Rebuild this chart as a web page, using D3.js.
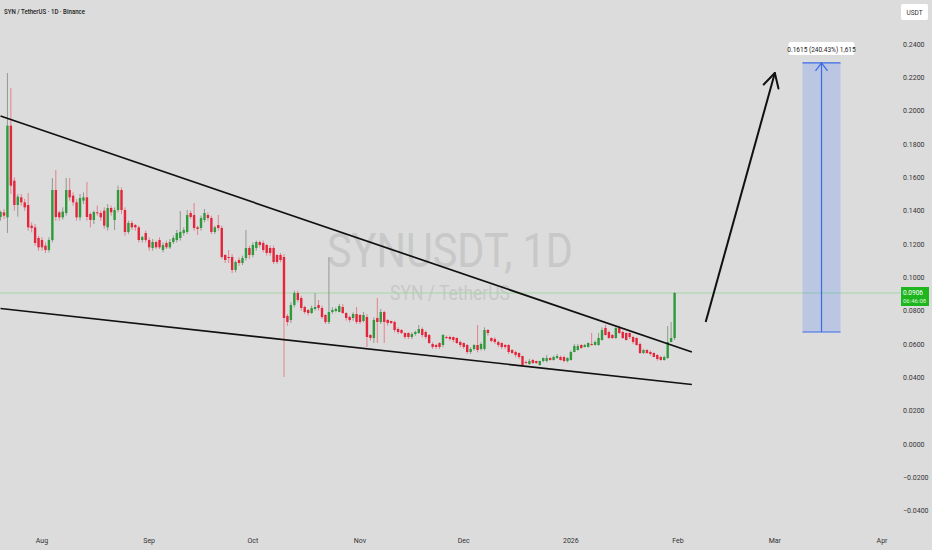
<!DOCTYPE html>
<html>
<head>
<meta charset="utf-8">
<script src="https://cdn.jsdelivr.net/npm/d3@7"></script>
<style>
  body { margin: 0; background: #dcdcdc; }
  svg { display: block; font-family: Roboto, "Noto Sans", sans-serif; }
</style>
</head>
<body>
<div id="chart"></div>
<script>
// daily candles starting 2025-07-20, [open, high, low, close]
var candleStart = "2025-07-20";
var candles = [
  [.1362,.140,.134,.1392],[.139,.141,.135,.137],[.136,.2226,.1266,.191],[.191,.2136,.150,.155],
  [.158,.160,.140,.1434],[.1434,.150,.1364,.1484],[.148,.150,.143,.145],[.145,.147,.140,.142],
  [.1434,.1506,.128,.130],[.131,.133,.127,.1296],[.130,.132,.119,.1206],[.1236,.125,.116,.118],
  [.1224,.124,.116,.118],[.119,.121,.1146,.1164],[.1164,.124,.115,.1224],[.1224,.1596,.121,.1524],
  [.1524,.1644,.134,.1362],[.139,.140,.134,.136],[.136,.142,.1346,.1394],[.1386,.1596,.137,.1524],
  [.1524,.1596,.146,.148],[.149,.151,.143,.145],[.145,.147,.134,.136],[.136,.150,.134,.1476],
  [.146,.151,.144,.148],[.148,.1572,.134,.1362],[.138,.139,.130,.1344],[.1344,.140,.132,.1392],
  [.139,.143,.137,.1386],[.1386,.140,.134,.136],[.140,.142,.129,.131],[.130,.144,.128,.1416],
  [.1416,.143,.137,.139],[.1344,.142,.1284,.1404],[.1404,.155,.139,.1524],[.1524,.154,.138,.1404],
  [.1404,.142,.125,.1272],[.1272,.134,.126,.1326],[.1326,.134,.1284,.130],[.1314,.132,.128,.130],
  [.130,.131,.121,.1224],[.1224,.125,.121,.1242],[.1266,.128,.121,.1224],[.1224,.124,.116,.118],
  [.1176,.123,.116,.1212],[.1212,.122,.117,.118],[.1224,.124,.117,.118],[.1164,.121,.115,.1194],
  [.1206,.122,.117,.118],[.118,.123,.117,.1212],[.1212,.125,.120,.1236],[.1224,.1284,.121,.1266],
  [.1236,.1398,.122,.1272],[.1266,.130,.125,.1284],[.1272,.1404,.126,.1374],[.1386,.140,.135,.1362],
  [.1374,.1446,.128,.1296],[.130,.131,.1254,.129],[.1296,.137,.128,.1356],[.1344,.141,.133,.1386],
  [.1374,.139,.134,.1356],[.1356,.137,.126,.1272],[.1272,.131,.126,.130],[.1314,.1374,.128,.1296],
  [.1296,.131,.111,.1122],[.1134,.114,.1086,.1104],[.1122,.1164,.1086,.1116],[.1122,.114,.1026,.1044],
  [.1044,.110,.103,.1092],[.1104,.112,.107,.1086],[.1086,.113,.1074,.1116],[.1116,.1284,.110,.1176],
  [.1176,.119,.111,.1134],[.1134,.121,.112,.1194],[.1176,.122,.116,.1212],[.1212,.122,.118,.1194],
  [.1206,.122,.115,.1164],[.1194,.120,.113,.1146],[.1176,.119,.113,.1146],[.1176,.119,.108,.1092],
  [.1134,.114,.108,.1092],[.1134,.1146,.109,.1104],[.1122,.114,.0402,.0756],[.0768,.078,.071,.0732],
  [.0744,.085,.0726,.0834],[.0834,.092,.082,.0906],[.0906,.092,.085,.0864],[.0876,.089,.080,.0816],
  [.0822,.083,.078,.0792],[.0804,.081,.077,.0786],[.0786,.083,.078,.0816],[.081,.0906,.080,.0822],
  [.0834,.0864,.080,.0816],[.0816,.083,.075,.0762],[.0774,.078,.072,.0732],[.0732,.112,.072,.0792],
  [.0792,.082,.078,.0804],[.0798,.082,.079,.081],[.0792,.084,.079,.0828],[.0822,.084,.078,.0786],
  [.0786,.079,.074,.0756],[.0762,.077,.073,.0744],[.0756,.079,.074,.078],[.078,.0822,.072,.0732],
  [.0774,.078,.072,.0732],[.0738,.0792,.073,.0774],[.0762,.078,.0582,.0642],[.0654,.066,.062,.0636],
  [.0636,.076,.0606,.0744],[.0756,.0876,.0606,.0732],[.0732,.081,.072,.0792],[.0792,.080,.0606,.0732],
  [.0744,.075,.071,.0726],[.0738,.074,.072,.0726],[.0732,.074,.067,.0684],[.069,.070,.066,.0672],
  [.0684,.069,.066,.0666],[.0666,.067,.063,.0642],[.0666,.067,.063,.0642],[.0642,.067,.063,.066],
  [.066,.068,.065,.0672],[.0666,.0714,.066,.069],[.069,.070,.064,.0654],[.0672,.068,.063,.0642],
  [.0654,.066,.060,.0606],[.060,.061,.057,.0582],[.0594,.060,.057,.0582],[.0606,.061,.057,.0582],
  [.0594,.066,.058,.0654],[.0642,.065,.063,.0636],[.0642,.065,.062,.063],[.0642,.0645,.061,.0624],
  [.0636,.064,.060,.0606],[.0612,.062,.058,.0594],[.0606,.061,.057,.0582],[.0594,.060,.054,.0552],
  [.0552,.058,.054,.057],[.057,.060,.056,.0594],[.0594,.0714,.055,.0564],[.057,.061,.056,.060],
  [.057,.070,.056,.0684],[.0684,.069,.065,.0666],[.0636,.064,.061,.0618],[.063,.064,.060,.0612],
  [.0612,.062,.058,.0594],[.0606,.061,.057,.0582],[.0594,.060,.057,.0582],[.0594,.060,.054,.0552],
  [.0564,.057,.054,.0546],[.0552,.056,.052,.0534],[.0546,.055,.051,.0522],[.0528,.053,.0468,.0474],
  [.0492,.050,.048,.0486],[.048,.051,.0475,.0498],[.0504,.051,.048,.0486],[.0498,.050,.048,.0486],
  [.0474,.050,.047,.0498],[.0498,.052,.049,.0516],[.0498,.0534,.049,.0516],[.0516,.052,.050,.0504],
  [.0504,.053,.050,.0522],[.0516,.054,.051,.0528],[.0522,.053,.050,.0504],[.0522,.053,.049,.0498],
  [.0498,.052,.049,.0516],[.0504,.056,.050,.0552],[.0552,.060,.055,.0588],[.0564,.060,.056,.0588],
  [.0594,.060,.057,.0576],[.0582,.060,.058,.0594],[.0582,.061,.058,.0606],[.060,.0666,.059,.0594],
  [.0594,.062,.059,.0612],[.0594,.0666,.059,.0636],[.0624,.070,.062,.0684],[.0696,.0714,.065,.0654],
  [.0672,.068,.063,.0636],[.0654,.066,.063,.0636],[.0636,.071,.063,.0696],[.0696,.071,.066,.0666],
  [.0672,.068,.063,.0636],[.0666,.067,.062,.0624],[.0666,.067,.063,.0642],[.0642,.065,.060,.0612],
  [.0636,.064,.059,.0594],[.060,.061,.054,.0546],[.0546,.057,.054,.0564],[.0564,.057,.054,.0546],
  [.0552,.056,.053,.054],[.0546,.055,.052,.0522],[.0534,.054,.050,.051],[.0522,.053,.050,.0504],
  [.0504,.053,.050,.0522],[.0516,.0708,.051,.0612],[.0612,.0732,.061,.0636],[.0636,.0912,.0624,.0906]
];

var yTicks = [0.24,0.22,0.20,0.18,0.16,0.14,0.12,0.10,0.08,0.06,0.04,0.02,0,-0.02,-0.04];
var monthTicks = [["2025-08-01","Aug"],["2025-09-01","Sep"],["2025-10-01","Oct"],["2025-11-01","Nov"],
  ["2025-12-01","Dec"],["2026-01-01","2026"],["2026-02-01","Feb"],["2026-03-01","Mar"],["2026-04-01","Apr"]];

// drawings: [date, price]
var upperTrend = [["2025-07-20",0.1968],["2026-02-05",0.0552]];
var lowerTrend = [["2025-07-20",0.0813],["2026-02-05",0.0357]];
var arrowPath = [["2026-02-09",0.0732],["2026-03-01",0.2226]];
var measureBox = {from:"2026-03-09", to:"2026-03-20", low:0.0672, high:0.2287};
var measureLabel = "0.1615 (240.43%) 1,615";
var lastPrice = 0.0906, countdown = "06:46:08";

var W = 932, H = 550;
var parse = d3.utcParse("%Y-%m-%d");

var x = d3.scaleUtc()
    .domain([parse("2025-08-01"), parse("2026-04-01")])
    .range([42, 882]);
var y = d3.scaleLinear()
    .domain([0, 0.24])
    .range([444, 44]);

var svg = d3.select("#chart").append("svg")
    .attr("width", W)
    .attr("height", H);

svg.append("rect").attr("width", W).attr("height", H).attr("fill", "#dcdcdc");

// watermark
svg.append("text")
    .attr("x", 327).attr("y", 267)
    .attr("textLength", 246).attr("lengthAdjust", "spacingAndGlyphs")
    .style("font-size", "48px")
    .attr("fill", "#c8c8c8")
    .text("SYNUSDT, 1D");
svg.append("text")
    .attr("x", 390).attr("y", 300)
    .attr("textLength", 120).attr("lengthAdjust", "spacingAndGlyphs")
    .style("font-size", "21px")
    .attr("fill", "#c8c8c8")
    .text("SYN / TetherUS");

// last price line
svg.append("line")
    .attr("x1", 0).attr("x2", 900)
    .attr("y1", y(lastPrice)).attr("y2", y(lastPrice))
    .attr("stroke", "#a3d6a3").attr("stroke-width", 1);

var start = parse(candleStart);
var day = 86400000;
var bw = 2.4;

var c = svg.append("g").attr("class", "candles")
  .selectAll("g")
  .data(candles)
  .enter().append("g");

c.append("line")
    .attr("x1", function(d, i) { return x(new Date(+start + i * day)); })
    .attr("x2", function(d, i) { return x(new Date(+start + i * day)); })
    .attr("y1", function(d) { return y(d[1]); })
    .attr("y2", function(d) { return y(d[2]); })
    .attr("stroke", function(d) { return d[3] >= d[0] ? "#7b8a7b" : "#e66a78"; })
    .attr("stroke-width", 0.8);

c.append("rect")
    .attr("x", function(d, i) { return x(new Date(+start + i * day)) - bw / 2; })
    .attr("width", bw)
    .attr("y", function(d) { return y(Math.max(d[0], d[3])); })
    .attr("height", function(d) { return Math.max(1, Math.abs(y(d[0]) - y(d[3]))); })
    .attr("fill", function(d) { return d[3] >= d[0] ? "#2e9a3c" : "#e3263c"; });

// trend lines
function drawLine(pts, w) {
  svg.append("line")
      .attr("x1", x(parse(pts[0][0]))).attr("y1", y(pts[0][1]))
      .attr("x2", x(parse(pts[1][0]))).attr("y2", y(pts[1][1]))
      .attr("stroke", "#111").attr("stroke-width", w);
}
drawLine(upperTrend, 1.7);
drawLine(lowerTrend, 1.7);

// big arrow
var ax1 = x(parse(arrowPath[0][0])), ay1 = y(arrowPath[0][1]),
    ax2 = x(parse(arrowPath[1][0])), ay2 = y(arrowPath[1][1]);
drawLine(arrowPath, 2);
var ang = Math.atan2(ay1 - ay2, ax1 - ax2);
[-0.5, 0.5].forEach(function(a) {
  svg.append("line")
      .attr("x1", ax2).attr("y1", ay2)
      .attr("x2", ax2 + 16 * Math.cos(ang + a)).attr("y2", ay2 + 16 * Math.sin(ang + a))
      .attr("stroke", "#111").attr("stroke-width", 2).attr("stroke-linecap", "round");
});

// measure box
var mx1 = x(parse(measureBox.from)), mx2 = x(parse(measureBox.to)),
    my1 = y(measureBox.high), my2 = y(measureBox.low), mxc = (mx1 + mx2) / 2;
svg.append("rect")
    .attr("x", mx1).attr("y", my1)
    .attr("width", mx2 - mx1).attr("height", my2 - my1)
    .attr("fill", "#2962ff").attr("fill-opacity", 0.18);
[my1, my2].forEach(function(yy) {
  svg.append("line")
      .attr("x1", mx1).attr("x2", mx2).attr("y1", yy).attr("y2", yy)
      .attr("stroke", "#3d6be8").attr("stroke-width", 1.2);
});
svg.append("line")
    .attr("x1", mxc).attr("x2", mxc).attr("y1", my1).attr("y2", my2)
    .attr("stroke", "#3d6be8").attr("stroke-width", 1.2);
[-1, 1].forEach(function(s) {
  svg.append("line")
      .attr("x1", mxc).attr("y1", my1)
      .attr("x2", mxc + s * 6).attr("y2", my1 + 8)
      .attr("stroke", "#3d6be8").attr("stroke-width", 1.2);
});
svg.append("rect")
    .attr("x", mxc - 33).attr("y", 42)
    .attr("width", 66).attr("height", 13).attr("rx", 2)
    .attr("fill", "#fff");
svg.append("text")
    .attr("x", mxc).attr("y", 51.5)
    .attr("text-anchor", "middle")
    .style("font-size", "6.5px")
    .attr("fill", "#222")
    .text(measureLabel);

// right axis
var yAxis = svg.append("g").attr("class", "y axis");
yAxis.selectAll("text")
    .data(yTicks)
    .enter().append("text")
    .attr("x", 903)
    .attr("y", function(d) { return y(d) + 2.5; })
    .style("font-size", "7px")
    .attr("fill", "#333")
    .text(function(d) { return d3.format(".4f")(d).replace("-", "\u2212"); });

// bottom axis
svg.append("g").attr("class", "x axis")
  .selectAll("text")
    .data(monthTicks)
    .enter().append("text")
    .attr("x", function(d) { return x(parse(d[0])); })
    .attr("y", 543)
    .attr("text-anchor", "middle")
    .style("font-size", "7px")
    .attr("fill", "#333")
    .text(function(d) { return d[1]; });

// last price tag
svg.append("rect")
    .attr("x", 901).attr("y", y(lastPrice) - 6)
    .attr("width", 28).attr("height", 19)
    .attr("fill", "#1fb51f");
svg.append("text")
    .attr("x", 903).attr("y", y(lastPrice) + 1.5)
    .style("font-size", "6.5px").attr("fill", "#fff")
    .text(d3.format(".4f")(lastPrice));
svg.append("text")
    .attr("x", 903).attr("y", y(lastPrice) + 10)
    .style("font-size", "6px").attr("fill", "#d8f5d8")
    .text(countdown);

// currency box
svg.append("rect")
    .attr("x", 901).attr("y", 4).attr("width", 27).attr("height", 16).attr("rx", 2)
    .attr("fill", "#fff");
svg.append("text")
    .attr("x", 914.5).attr("y", 14.5)
    .attr("text-anchor", "middle")
    .style("font-size", "6.5px").attr("fill", "#333")
    .text("USDT");

// title
svg.append("text")
    .attr("x", 4).attr("y", 13.5)
    .attr("textLength", 81).attr("lengthAdjust", "spacingAndGlyphs")
    .style("font-size", "8px").style("font-weight", "500")
    .attr("fill", "#222")
    .text("SYN / TetherUS \u00b7 1D \u00b7 Binance");
</script>
</body>
</html>
